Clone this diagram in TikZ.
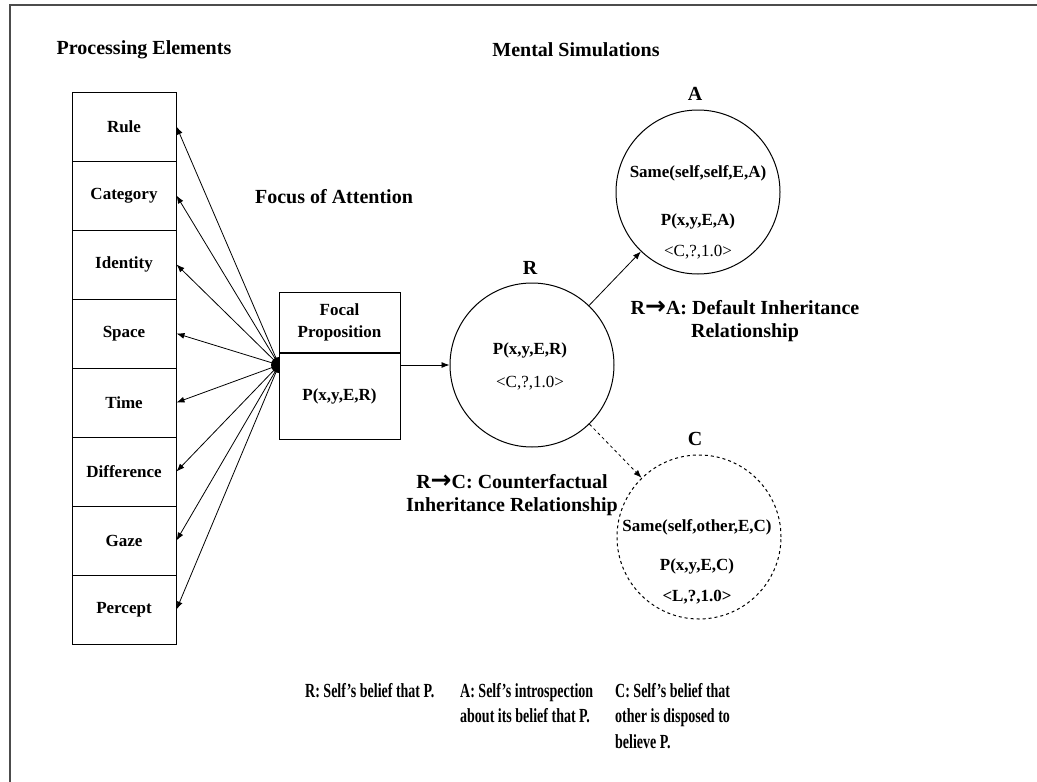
\documentclass[tikz,border=0pt]{standalone}
\usepackage{fontspec}
\setmainfont{Liberation Serif}
\newfontfamily\narrowfont{Liberation Serif}[FakeStretch=0.7]
\newfontfamily\arrowfont{DejaVu Sans}
\newcommand{\relarrow}{{\arrowfont\fontsize{25}{23}\selectfont\bfseries →}}
\usetikzlibrary{arrows.meta,positioning}

\begin{document}
\begin{tikzpicture}[x=1pt, y=-1pt,
    head/.style={font=\fontsize{20}{23}\selectfont\bfseries},
    txt/.style={font=\fontsize{17}{20}\selectfont\bfseries},
    plain/.style={font=\fontsize{17}{20}\selectfont},
    cell/.style={draw, line width=1pt, minimum width=104pt, minimum height=69pt, font=\fontsize{17}{20}\selectfont\bfseries},
    sim/.style={draw, circle, line width=1pt, minimum size=164pt, inner sep=0pt},
    note/.style={font=\narrowfont\fontsize{20}{25.5}\selectfont\bfseries, align=left, anchor=north west, inner sep=0pt},
    arr/.style={-{Latex[length=8pt,width=6pt]}, line width=0.8pt}]
    \useasboundingbox (0,0) rectangle (1037,782);

    % Frame
    \draw[line width=2pt, black!70] (10,782) -- (10,5) -- (1037,5);

    % Titles
    \node[head] (pehead) at (144,50) {Processing Elements};
    \node[head] (mshead) at (576,50) {Mental Simulations};
    \node[head] (foahead) at (334,197) {Focus of Attention};

    % Processing elements
    \foreach \name [count=\i] in {Rule,Category,Identity,Space,Time,Difference,Gaze,Percept} {
        \node[cell] (pe\i) at (124,{57.5+69*\i}) {\name};
    }

    % Focal proposition
    \node[cell, minimum width=121pt, minimum height=60pt, align=center] (focal) at (339.5,322) {Focal\\[2pt]Proposition};
    \node[cell, minimum width=121pt, minimum height=86pt, anchor=north] (prop) at (focal.south) {P(x,y,E,R)};

    % Hub and fan of arrows
    \coordinate (hub) at (279,365);
    \foreach \i in {1,...,8} {
        \draw[arr] (hub) -- (pe\i.east);
    }
    \fill (hub) ++(0,-8) arc[start angle=90, end angle=270, radius=8pt] -- cycle;

    % Mental simulations
    \node[sim] (simR) at (532,365) {};
    \node[head] (labR) at (530,268) {R};
    \node[txt] at (530,350) {P(x,y,E,R)};
    \node[plain] at (530,383) {<C,?,1.0>};

    \node[sim] (simA) at (698,192) {};
    \node[head] (labA) at (695,94) {A};
    \node[txt] at (698,173) {Same(self,self,E,A)};
    \node[txt] at (698,221) {P(x,y,E,A)};
    \node[plain] at (698,252) {<C,?,1.0>};

    \node[sim, dashed] (simC) at (699,537) {};
    \node[head] (labC) at (695,439) {C};
    \node[txt] at (697,527) {Same(self,other,E,C)};
    \node[txt] at (697,566) {P(x,y,E,C)};
    \node[txt] at (697,597) {<L,?,1.0>};

    % Links
    \draw[arr] (prop.east |- simR.west) -- (simR.west);
    \draw[arr] (simR) -- (simA);
    \draw[arr, dashed] (simR) -- (simC);

    \node[head, align=center] (relA) at (745,321) {R\relarrow A: Default Inheritance\\Relationship};
    \node[head, align=center] (relC) at (512,495) {R\relarrow C: Counterfactual\\Inheritance Relationship};

    % Legend
    \node[note] (noteR) at (305,683) {R: Self’s belief that P.};
    \node[note] (noteA) at (460,683) {A: Self’s introspection\\about its belief that P.};
    \node[note] (noteC) at (615,683) {C: Self’s belief that\\other is disposed to\\believe P.};
\end{tikzpicture}
\end{document}
